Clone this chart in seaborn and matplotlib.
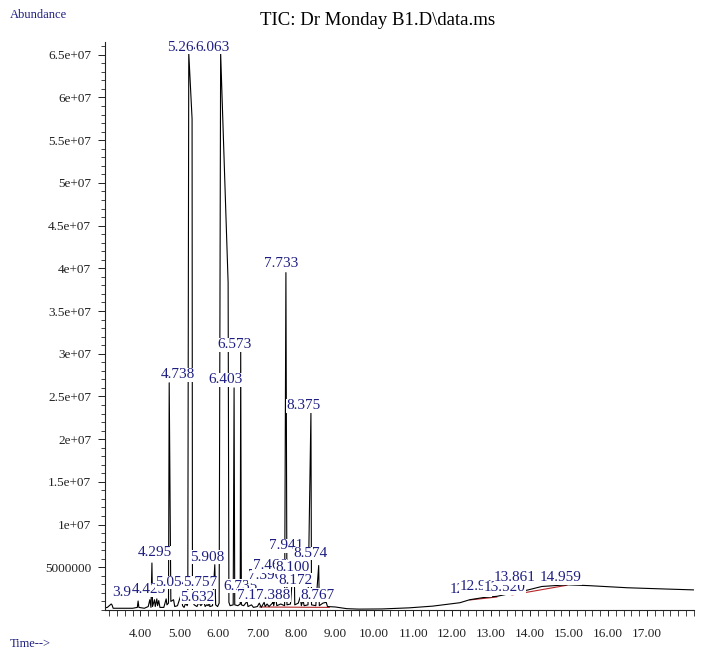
import pandas as pd
import numpy as np
import matplotlib
matplotlib.use("Agg")
import matplotlib.pyplot as plt
import seaborn as sns
from matplotlib.ticker import MultipleLocator, FixedLocator

# retention time (min) and abundance of the TIC trace
rt = [3.09, 3.15, 3.25, 3.27, 3.30, 3.50, 3.80, 3.92, 3.94, 3.96, 4.10, 4.20, 4.24, 4.27,
      4.295, 4.31, 4.36, 4.38, 4.42, 4.44, 4.47, 4.50, 4.60, 4.66, 4.68, 4.72, 4.738, 4.78,
      4.85, 4.88, 4.95, 5.00, 5.05, 5.08, 5.12, 5.16, 5.20, 5.215, 5.24, 5.325, 5.335,
      5.38, 5.45, 5.50, 5.55, 5.60, 5.632, 5.66, 5.70, 5.74, 5.757, 5.78, 5.85, 5.908,
      5.93, 5.98, 6.02, 6.058, 6.25, 6.27, 6.30, 6.38, 6.403, 6.42, 6.50, 6.56, 6.573,
      6.59, 6.65, 6.735, 6.76, 6.85, 6.90, 7.00, 7.05, 7.10, 7.175, 7.20, 7.25, 7.30,
      7.388, 7.396, 7.42, 7.466, 7.50, 7.60, 7.70, 7.733, 7.76, 7.85, 7.941, 7.96,
      8.05, 8.10, 8.13, 8.172, 8.20, 8.30, 8.375, 8.39, 8.50, 8.574, 8.59, 8.68,
      8.767, 8.80, 9.00, 9.30, 9.60, 10.20, 10.90, 11.50, 12.20, 12.45, 12.797,
      12.913, 13.15, 13.52, 13.861, 14.30, 14.959, 15.50, 16.50, 17.50, 18.20]
abundance = [0.25e6, 0.3e6, 0.7e6, 0.6e6, 0.2e6, 0.2e6, 0.2e6, 0.3e6, 1.05e6, 0.3e6,
             0.2e6, 0.4e6, 1.2e6, 0.3e6, 5.5e6, 0.4e6, 1.2e6, 0.4e6, 1.3e6, 0.5e6,
             1.1e6, 0.3e6, 0.3e6, 1.3e6, 0.6e6, 0.8e6, 2.66e7, 1.0e6, 1.2e6, 0.4e6,
             0.5e6, 1.2e6, 1.9e6, 0.5e6, 0.3e6, 0.8e6, 0.5e6, 0.8e6, 6.52e7, 5.75e7,
             1.0e6, 0.6e6, 0.4e6, 0.9e6, 0.5e6, 0.8e6, 0.9e6, 0.4e6, 0.6e6, 0.5e6,
             2.1e6, 0.4e6, 0.5e6, 5.3e6, 0.6e6, 0.4e6, 0.8e6, 6.52e7, 3.83e7, 0.9e6,
             0.5e6, 0.6e6, 2.6e7, 0.6e6, 0.5e6, 0.7e6, 3.02e7, 0.6e6, 0.5e6, 1.0e6,
             0.4e6, 0.6e6, 0.3e6, 0.4e6, 0.8e6, 0.3e6, 0.9e6, 0.4e6, 0.7e6, 0.4e6,
             0.8e6, 1.4e6, 0.5e6, 1.6e6, 0.5e6, 0.7e6, 0.5e6, 3.95e7, 0.6e6, 0.7e6,
             6.5e6, 0.6e6, 0.8e6, 1.5e6, 0.5e6, 1.2e6, 0.5e6, 0.6e6, 2.31e7, 0.6e6,
             0.5e6, 5.2e6, 0.5e6, 0.8e6, 0.9e6, 0.4e6, 0.35e6, 0.15e6, 0.1e6, 0.12e6,
             0.25e6, 0.45e6, 0.85e6, 1.2e6, 1.45e6, 1.5e6, 1.6e6, 1.95e6, 2.25e6,
             2.75e6, 2.95e6, 2.85e6, 2.6e6, 2.45e6, 2.35e6]

# integration baselines (red)
base_seg = [1, 1, 2, 2, 3, 3]
base_rt = [7.05, 8.85, 12.45, 13.15, 13.53, 14.95]
base_ab = [0.35e6, 0.3e6, 1.17e6, 1.52e6, 1.76e6, 2.9e6]

# peak labels: text and anchor (rt, abundance)
peak_text = ["3.942", "4.425", "4.295", "4.738", "5.054", "5.264", "5.632", "5.757", "5.908",
             "6.063", "6.403", "6.573", "6.735", "7.175", "7.396", "7.388", "7.466", "7.733",
             "7.941", "8.100", "8.172", "8.375", "8.574", "8.767",
             "12.797", "12.913", "13.520", "13.861", "14.959"]
label_rt = [3.72, 4.205, 4.36, 4.95, 4.81, 5.11, 5.45, 5.53, 5.72,
            5.85, 6.19, 6.425, 6.56, 6.92, 7.21, 7.41, 7.32, 7.605,
            7.73, 7.90, 7.98, 8.18, 8.36, 8.54,
            12.47, 12.72, 13.34, 13.61, 14.79]
label_ab = [2.1e6, 2.34e6, 6.7e6, 2.754e7, 3.2e6, 6.585e7, 1.5e6, 3.2e6, 6.2e6,
            6.585e7, 2.695e7, 3.105e7, 2.8e6, 1.75e6, 4.0e6, 1.75e6, 5.15e6, 4.054e7,
            7.5e6, 5.0e6, 3.5e6, 2.39e7, 6.6e6, 1.75e6,
            2.34e6, 2.8e6, 2.6e6, 3.75e6, 3.75e6]

yticks = [5e6, 1e7, 1.5e7, 2e7, 2.5e7, 3e7, 3.5e7, 4e7, 4.5e7, 5e7, 5.5e7, 6e7, 6.5e7]
ytick_labels = ["5000000", "1e+07", "1.5e+07", "2e+07", "2.5e+07", "3e+07", "3.5e+07",
                "4e+07", "4.5e+07", "5e+07", "5.5e+07", "6e+07", "6.5e+07"]
xticks = [4, 5, 6, 7, 8, 9, 10, 11, 12, 13, 14, 15, 16, 17]

sns.set_style("ticks")
plt.rcParams['font.family'] = ['Liberation Serif', 'DejaVu Serif']
navy = '#1e1e82'

fig = plt.figure(figsize=(7.06, 6.61), dpi=100)
ax = fig.add_axes([0.1487, 0.0772, 0.834, 0.8593])

trace = pd.DataFrame({'rt': rt, 'ab': abundance})
sns.lineplot(data=trace, x='rt', y='ab', estimator=None, sort=False, color='black',
             linewidth=0.8, ax=ax, zorder=2)
base = pd.DataFrame({'seg': base_seg, 'rt': base_rt, 'ab': base_ab})
sns.lineplot(data=base, x='rt', y='ab', units='seg', estimator=None, sort=False,
             color='#b5282a', linewidth=0.8, ax=ax, zorder=1)

for txt, x, y in zip(peak_text, label_rt, label_ab):
    ax.text(x, y, txt, ha='center', va='center', fontsize=11, color=navy, zorder=5,
            bbox=dict(facecolor='white', edgecolor='none', pad=0.2))

ax.set_xlim(3.09, 18.2)
ax.set_ylim(0, 6.65e7)
ax.xaxis.set_major_locator(FixedLocator(xticks))
ax.set_xticklabels([f"{t:.2f}" for t in xticks])
ax.xaxis.set_minor_locator(MultipleLocator(0.2))
ax.yaxis.set_major_locator(FixedLocator(yticks))
ax.set_yticklabels(ytick_labels)
ax.yaxis.set_minor_locator(MultipleLocator(1e6))
ax.tick_params(axis='both', which='major', labelsize=9.5, length=5, width=0.7,
               colors='#222222', pad=5)
ax.tick_params(axis='both', which='minor', length=3, width=0.6, colors='#222222')
ax.tick_params(axis='x', which='both', length=4, pad=9)
ax.set_xlabel("")
ax.set_ylabel("")
for s in ['top', 'right']:
    ax.spines[s].set_visible(False)
for s in ['left', 'bottom']:
    ax.spines[s].set_linewidth(0.8)
    ax.spines[s].set_color('#222222')

fig.text(0.535, 0.969, "TIC: Dr Monday B1.D\\data.ms", ha='center', va='center',
         fontsize=13.5, color='black')
fig.text(0.014, 0.977, "Abundance", ha='left', va='center', fontsize=9, color=navy)
fig.text(0.014, 0.026, "Time-->", ha='left', va='center', fontsize=9, color=navy)

fig.savefig("out.png", dpi=100)
